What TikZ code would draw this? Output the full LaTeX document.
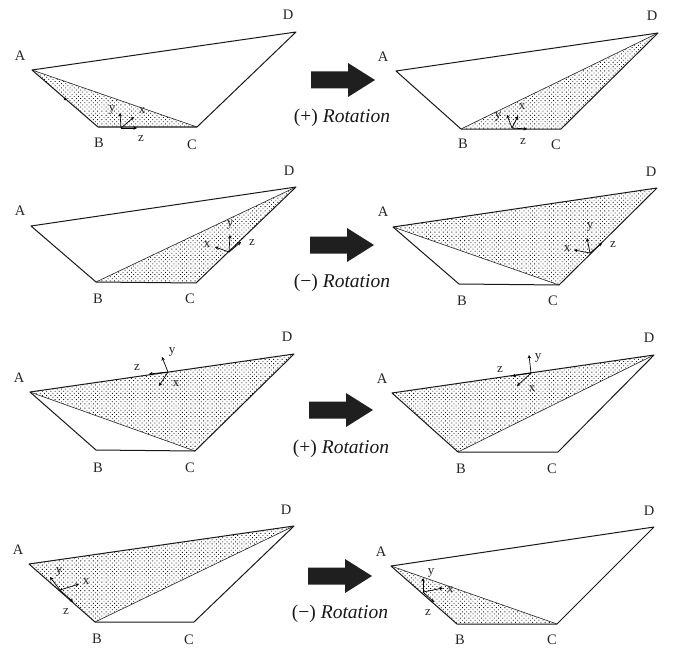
\documentclass[tikz,border=0pt]{standalone}
\usepackage{fontspec}
\setmainfont{Liberation Serif}
\usetikzlibrary{patterns.meta,arrows.meta}
\tikzset{
  edge/.style={draw=black!90,line width=1pt,line join=round},
  shade area/.style={pattern={Dots[distance=3pt,radius=.62pt,angle=45]},pattern color=black!90},
  thin edge/.style={draw=black!85,line width=.6pt},
  vtx/.style={font=\fontsize{14.5}{14.5}\selectfont,inner sep=0pt,text=black!85},
  axlab/.style={font=\fontsize{13}{13}\selectfont,inner sep=0pt,text=black!85},
  axis/.style={draw=black,line width=.7pt,-{Stealth[length=3.5pt,width=3.5pt]}},
  blockarrow/.style={fill=black!88,draw=none},
  rotlab/.style={font=\fontsize{19.5}{19.5}\selectfont,inner sep=0pt,text=black!90},
}
% panel id; corners A B C D
\newcommand{\corners}[5]{%
  \coordinate (#1A) at (#2); \coordinate (#1B) at (#3);
  \coordinate (#1C) at (#4); \coordinate (#1D) at (#5);}
% panel id; label positions of A B C D
\newcommand{\cornerlabels}[5]{%
  \node[vtx] (#1LA) at (#2) {A}; \node[vtx] (#1LB) at (#3) {B};
  \node[vtx] (#1LC) at (#4) {C}; \node[vtx] (#1LD) at (#5) {D};}
% panel id; origin; tips x y z
\newcommand{\axesat}[5]{%
  \coordinate (#1O) at (#2); \coordinate (#1X) at (#3);
  \coordinate (#1Y) at (#4); \coordinate (#1Z) at (#5);
  \draw[axis] (#1O) -- (#1X); \draw[axis] (#1O) -- (#1Y); \draw[axis] (#1O) -- (#1Z);}
% panel id; label positions x y z
\newcommand{\axeslabels}[4]{%
  \node[axlab] (#1Lx) at (#2) {x}; \node[axlab] (#1Ly) at (#3) {y}; \node[axlab] (#1Lz) at (#4) {z};}
\newcommand{\outline}[1]{\draw[edge] (#1A) -- (#1B) -- (#1C) -- (#1D) -- cycle;}
% left x, mid y
\newcommand{\bigarrow}[2]{%
  \fill[blockarrow] (#1,#2-8.5) -- ++(37,0) -- ++(0,-8.5) -- (#1+64,#2) -- (#1+37,#2+17) -- ++(0,-8.5) -- (#1,#2+8.5) -- cycle;}
\begin{document}
\begin{tikzpicture}[x=1pt,y=-1pt]
\useasboundingbox (0,0) rectangle (674,650);
\fill[white] (0,0) rectangle (674,650);

% Row 1
\corners{a}{32,70}{98,127}{197,127}{296,32}
\fill[shade area] (aA) -- (aB) -- (aC) -- cycle;
\outline{a}
\draw[thin edge] (aA) -- (aC);
\cornerlabels{a}{20,56}{99,143}{192,145}{288,15}
\axesat{a}{121,128}{134,117}{120,113}{137,128}
\axeslabels{a}{142,111}{112,110}{141,139}
\fill (65,99) circle (1.5pt);

\corners{b}{396,71}{461,129}{561,129}{658,33}
\fill[shade area] (bB) -- (bC) -- (bD) -- cycle;
\outline{b}
\draw[thin edge] (bB) -- (bD);
\cornerlabels{b}{383,57}{463,144}{556,145}{652,16}
\axesat{b}{512,128}{518,116}{507,115}{527,129}
\axeslabels{b}{522,107}{498,117}{523,142}

\bigarrow{311}{80}
\node[rotlab] (r1) at (342,118) {(+) \textit{Rotation}};

% Row 2
\corners{c}{31,226}{96,282}{196,283}{296,187}
\fill[shade area] (cB) -- (cC) -- (cD) -- cycle;
\outline{c}
\draw[thin edge] (cB) -- (cD);
\cornerlabels{c}{20,211}{98,299}{190,299}{289,171}
\axesat{c}{229,252}{215,247}{230,235}{241,242}
\axeslabels{c}{207,245}{230,225}{252,243}

\corners{d}{393,227}{459,284}{559,285}{657,188}
\fill[shade area] (dA) -- (dC) -- (dD) -- cycle;
\outline{d}
\draw[thin edge] (dA) -- (dC);
\cornerlabels{d}{383,212}{462,301}{553,301}{651,172}
\axesat{d}{590,253}{574,250}{587,238}{602,243}
\axeslabels{d}{567,249}{590,227}{613,245}

\bigarrow{310}{245}
\node[rotlab] (r2) at (342,283) {(−) \textit{Rotation}};

% Row 3
\corners{e}{30,392}{96,450}{195,451}{294,354}
\fill[shade area] (eA) -- (eC) -- (eD) -- cycle;
\outline{e}
\draw[thin edge] (eA) -- (eC);
\cornerlabels{e}{19,378}{98,468}{190,468}{287,337}
\axesat{e}{168,372}{159,386}{162,357}{149,374}
\axeslabels{e}{176,384}{172,352}{137,368}

\corners{f}{392,393}{458,452}{558,452}{654,355}
\fill[shade area] (fA) -- (fB) -- (fD) -- cycle;
\outline{f}
\draw[thin edge] (fB) -- (fD);
\cornerlabels{f}{382,379}{461,469}{552,469}{649,338}
\axesat{f}{531,373}{517,386}{529,355}{512,376}
\axeslabels{f}{532,389}{538,358}{500,370}

\bigarrow{309}{410}
\node[rotlab] (r3) at (341,449) {(+) \textit{Rotation}};

% Row 4
\corners{g}{29,564}{95,622}{194,622}{294,526}
\fill[shade area] (gA) -- (gB) -- (gD) -- cycle;
\outline{g}
\draw[thin edge] (gB) -- (gD);
\cornerlabels{g}{18,550}{97,639}{189,640}{286,510}
\axesat{g}{60,590}{79,584}{50,577}{73,602}
\axeslabels{g}{86,582}{59,572}{66,612}

\corners{h}{391,566}{457,624}{557,624}{654,527}
\fill[shade area] (hA) -- (hB) -- (hC) -- cycle;
\outline{h}
\draw[thin edge] (hA) -- (hC);
\cornerlabels{h}{381,552}{460,640}{552,640}{649,511}
\axesat{h}{423,592}{443,588}{423,578}{434,602}
\axeslabels{h}{450,590}{431,573}{428,613}

\bigarrow{308}{576}
\node[rotlab] (r4) at (340,614) {(−) \textit{Rotation}};
\end{tikzpicture}
\end{document}
